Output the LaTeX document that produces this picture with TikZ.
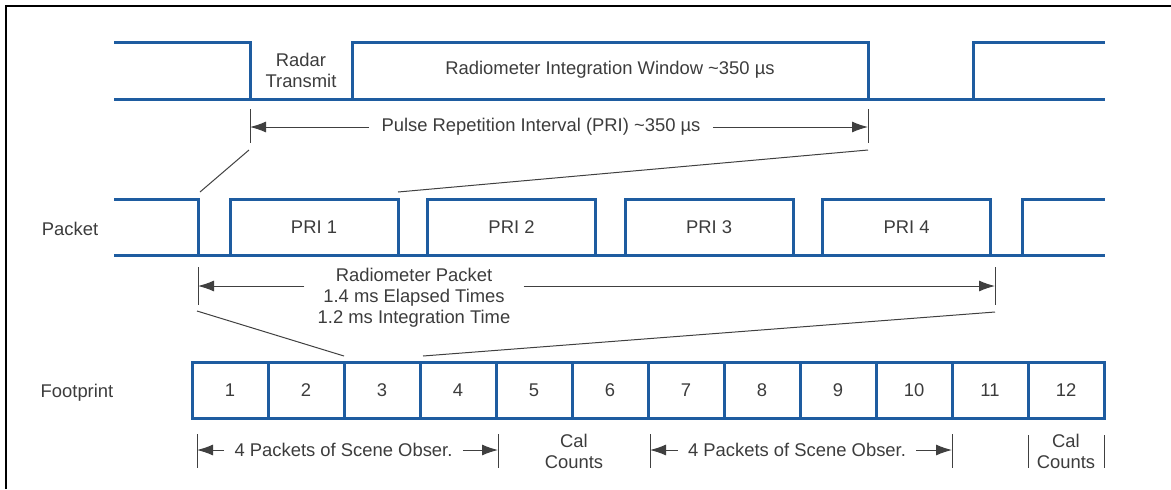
\documentclass[tikz,border=0pt]{standalone}
\usepackage{fontspec}
\setmainfont{Liberation Sans}
\usetikzlibrary{arrows.meta}
\definecolor{sigblue}{RGB}{30,92,160}
\definecolor{txtgray}{RGB}{60,60,60}

\tikzset{
  wave/.style={draw=sigblue, line width=1.5pt},
  lbl/.style={align=center, text=txtgray, font=\fontsize{9.2}{10.5}\selectfont, inner sep=1pt},
  cell/.style={lbl, draw=sigblue, line width=1.5pt, minimum width=38pt, minimum height=28pt},
  dim/.style={draw=black!75, line width=0.5pt},
  dimarrow/.style={dim, -{Latex[length=8pt,width=5.5pt]}},
}

\begin{document}
\begin{tikzpicture}[x=0.5pt,y=-0.5pt]
                \useasboundingbox (0,0) rectangle (1171,489);
                % Frame
                \draw[line width=1pt] (6,489) -- (6,6) -- (1171,6);

                % Radar transmit / integration window
                \draw[wave] (114,99) -- (1105,99);
                \draw[wave] (114,42) -- (250,42) -- (250,99);
                \draw[wave] (352,99) -- (352,42) -- (868,42) -- (868,99);
                \draw[wave] (973,99) -- (973,42) -- (1105,42);
                \node[lbl] (radar) at (301,70.5) {Radar\\Transmit};
                \node[lbl] (window) at (610,70) {Radiometer Integration Window \textasciitilde350 µs};

                % Pulse repetition interval
                \coordinate (priL) at (250,127);
                \coordinate (priR) at (868,127);
                \draw[dim] (250,109) -- (250,143) coordinate (priLb);
                \draw[dim] (868,109) -- (868,143) coordinate (priRb);
                \node[lbl, inner xsep=6pt] (pri) at (541,127) {Pulse Repetition Interval (PRI) \textasciitilde350 µs};
                \draw[dimarrow] (pri) -- (priL);
                \draw[dimarrow] (pri) -- (priR);

                % Zoom into packet row
                \coordinate (pktA) at (200,192);
                \coordinate (pktB) at (398,192);
                \draw[dim] (249,150) -- (pktA);
                \draw[dim] (pktB) -- (868,150);

                % Packet row
                \node[lbl] (packet) at (70,229) {Packet};
                \draw[wave] (114,255) -- (1105,255);
                \draw[wave] (114,199) -- (198,199) -- (198,255);
                \foreach \i in {1,...,4} {
                    \draw[wave] (230+197.5*\i-197.5,255) rectangle ++(168,-56);
                    \node[lbl] (pri\i) at (314+197.5*\i-197.5,227) {PRI \i};
                }
                \draw[wave] (1022,255) -- (1022,199) -- (1105,199);

                % Radiometer packet
                \coordinate (rpL) at (198,286);
                \coordinate (rpR) at (995,286);
                \draw[dim] (198,267) -- (198,305);
                \draw[dim] (995,267) -- (995,305);
                \node[lbl, inner xsep=6.5pt] (rpkt) at (414,298) {Radiometer Packet\\1.4 ms Elapsed Times\\1.2 ms Integration Time};
                \draw[dimarrow] (rpkt.west |- rpL) -- (rpL);
                \draw[dimarrow] (rpkt.east |- rpR) -- (rpR);

                % Zoom into footprint row
                \draw[dim] (197,311) -- (344,356);
                \draw[dim] (423,356) -- (995,312);

                % Footprint row
                \node[lbl] (foot) at (77,393) {Footprint};
                \foreach \i in {1,...,12} {
                    \node[cell] (fp\i) at (154+76*\i,390) {\i};
                }

                % Scene observations and calibration
                \foreach \a/\b/\n in {197/498/sceneA, 650/952/sceneB} {
                    \draw[dim] (\a,434) -- (\a,468);
                    \draw[dim] (\b,434) -- (\b,468);
                    \node[lbl, inner xsep=5pt] (\n) at ({(\a+\b)/2-4},450) {4 Packets of Scene Obser.};
                    \draw[dimarrow] (\n.west) -- (\a,450);
                    \draw[dimarrow] (\n.east) -- (\b,450);
                }
                \node[lbl] (calA) at (574,451) {Cal\\Counts};
                \node[lbl] (calB) at (1066,451) {Cal\\Counts};
                \draw[dim] (1028,435) -- (1028,468);
                \draw[dim] (1104,435) -- (1104,468);
            \end{tikzpicture}
\end{document}
